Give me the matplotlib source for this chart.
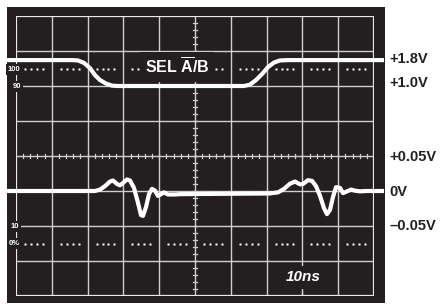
import numpy as np
import matplotlib
matplotlib.use("Agg")
import matplotlib.pyplot as plt
from matplotlib.patches import Rectangle

plt.rcParams["font.family"] = ["Liberation Sans", "DejaVu Sans"]
plt.rcParams["mathtext.fontset"] = "custom"
plt.rcParams["mathtext.bf"] = "Liberation Sans:bold"
plt.rcParams["mathtext.rm"] = "Liberation Sans:bold"

# Screen data: time in ns (10ns/div), level in graticule divisions (0..8)
sel_t = [-2.5, 15.64, 17.32, 18.99, 20.67, 22.07, 23.46, 25.14, 26.82, 28.49,
         63.69, 65.36, 67.04, 68.72, 70.39, 72.07, 73.74, 75.98, 102.8]
sel_v = [6.74, 6.74, 6.73, 6.66, 6.51, 6.31, 6.17, 6.07, 6.01, 6.00,
         6.00, 6.04, 6.17, 6.34, 6.54, 6.67, 6.73, 6.74, 6.74]

out_t = [-2.5, 22.07, 23.46, 24.86, 26.26, 27.09, 28.21, 29.05, 29.89, 31.01,
         31.84, 32.96, 34.08, 34.92, 35.47, 36.31, 37.15, 37.99, 38.83, 39.66,
         40.50, 41.34, 42.46, 44.41, 45.81, 70.95, 73.18, 74.86, 76.54, 77.93,
         79.33, 80.17, 81.56, 82.68, 83.80, 84.92, 86.03, 86.87, 87.71, 88.55,
         89.39, 90.50, 91.34, 92.46, 93.58, 94.69, 96.09, 97.77, 102.8]
out_v = [3.00, 3.00, 3.04, 3.14, 3.27, 3.30, 3.20, 3.16, 3.23, 3.33,
         3.30, 3.09, 2.66, 2.31, 2.29, 2.54, 2.91, 3.06, 3.01, 2.86,
         2.91, 2.96, 2.90, 2.90, 2.91, 2.93, 2.96, 3.06, 3.21, 3.27,
         3.19, 3.20, 3.31, 3.29, 3.14, 2.86, 2.51, 2.34, 2.46, 2.83,
         3.11, 3.09, 2.94, 2.99, 3.04, 3.01, 2.99, 3.00, 3.00]

right_labels = ["+1.8V", "+1.0V", "+0.05V", "0V", "\u20130.05V"]
right_label_y = [6.76, 6.09, 3.97, 2.97, 2.0]
left_labels = ["100", "90", "10", "0%"]
left_label_x = [-0.56, 0.28, -0.4, -0.45]
left_label_y = [6.46, 5.98, 1.98, 1.49]
dotted_levels = [1.5, 6.5]

BLACK = "#231f20"
GRID = "#cfcfcf"

fig = plt.figure(figsize=(4.44, 3.04), dpi=100)
fig.patch.set_facecolor("white")
fig.patches.append(Rectangle((7 / 444, 1 / 304), 378 / 444, 296 / 304,
                             transform=fig.transFigure, facecolor=BLACK,
                             edgecolor="none", zorder=-10))

ax = fig.add_axes([16 / 444, 8 / 304, 358 / 444, 280 / 304])
ax.set_zorder(1)
ax.set_xlim(0, 100)
ax.set_ylim(0, 8)
ax.axis("off")

# graticule
for t in range(10, 100, 10):
    ax.plot([t, t], [0, 8], color=GRID, lw=1.0, zorder=1)
for v in range(1, 8):
    ax.plot([0, 100], [v, v], color=GRID, lw=1.0, zorder=1)
ax.add_patch(Rectangle((0, 0), 100, 8, fill=False, edgecolor="#e8e8e8",
                       lw=1.6, zorder=2))

# minor ticks on the centre axes
minor_t = np.arange(2, 100, 2)
ax.plot(np.repeat(minor_t, 3), np.tile([3.94, 4.06, np.nan], len(minor_t)),
        color=GRID, lw=0.9, zorder=1)
minor_v = np.arange(0.2, 8, 0.2)
ax.plot(np.tile([49.45, 50.55, np.nan], len(minor_v)), np.repeat(minor_v, 3),
        color=GRID, lw=0.9, zorder=1)

# dotted 0% / 100% lines
offs = np.array([2.5, 4.17, 5.83, 7.5])
dot_t = (np.arange(0, 100, 10)[:, None] + offs).ravel()
for lev in dotted_levels:
    ax.plot(dot_t, np.full_like(dot_t, lev), ls="none", marker="s", ms=1.6,
            mfc="white", mec="none", zorder=2)

# 10ns marker tick
ax.plot([80, 80], [0, 0.12], color=GRID, lw=1.0, zorder=1)

# traces
for t, v in [(sel_t, sel_v), (out_t, out_v)]:
    ax.plot(t, v, color="white", lw=3.0, solid_joinstyle="round",
            solid_capstyle="butt", clip_on=False, zorder=5)

ax.text(44.9, 6.55, r"SEL $\overline{\mathbf{A}}$/B", color="white",
        fontsize=11.5, fontweight="bold", ha="center", va="center", zorder=4,
        bbox=dict(boxstyle="square,pad=0.3", fc=BLACK, ec="none"))
ax.text(80.3, 0.54, "10ns", color="white", fontsize=11, fontweight="bold",
        fontstyle="italic", ha="center", va="center", zorder=4,
        bbox=dict(boxstyle="square,pad=0.3", fc=BLACK, ec="none"))

for lab, x, y in zip(left_labels, left_label_x, left_label_y):
    ax.text(x, y, lab, color="white", fontsize=5.5, fontweight="bold",
            ha="center", va="center", zorder=4, clip_on=False,
            bbox=dict(boxstyle="square,pad=0.25", fc=BLACK, ec="none"))

for lab, y in zip(right_labels, right_label_y):
    ax.text(104.2, y, lab, color=BLACK, fontsize=10.5, fontweight="bold",
            ha="left", va="center", clip_on=False)

fig.savefig("out.png", dpi=100, facecolor="white")
